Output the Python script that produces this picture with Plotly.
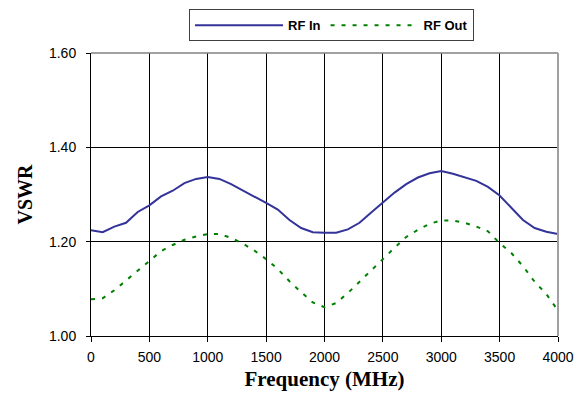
import plotly.graph_objects as go

freq = list(range(0, 4001, 100))

rf_in = [1.224, 1.220, 1.232, 1.240, 1.263, 1.277, 1.296, 1.308, 1.324, 1.333,
         1.337, 1.333, 1.322, 1.309, 1.296, 1.282, 1.268, 1.246, 1.229, 1.220,
         1.219, 1.219, 1.226, 1.240, 1.262, 1.284, 1.304, 1.322, 1.336, 1.345,
         1.350, 1.344, 1.337, 1.329, 1.316, 1.298, 1.272, 1.246, 1.229, 1.221,
         1.216]

rf_out = [1.078, 1.080, 1.097, 1.117, 1.138, 1.159, 1.180, 1.193, 1.204, 1.211,
          1.216, 1.216, 1.208, 1.196, 1.181, 1.163, 1.142, 1.116, 1.093, 1.071,
          1.061, 1.070, 1.091, 1.115, 1.141, 1.163, 1.187, 1.210, 1.225, 1.238,
          1.245, 1.245, 1.240, 1.232, 1.222, 1.197, 1.176, 1.148, 1.115, 1.089,
          1.054]

fig = go.Figure()
fig.add_trace(go.Scatter(x=freq, y=rf_in, name="<b>RF In</b>", mode="lines",
                         line=dict(color="#333399", width=2)))
fig.add_trace(go.Scatter(x=freq, y=rf_out, name="<b>RF Out</b>", mode="lines",
                         line=dict(color="#008000", width=2, dash="4px,7px")))

# grey frame on top and right like the original
fig.add_shape(type="line", xref="paper", yref="paper", x0=0, x1=1, y0=1, y1=1,
              line=dict(color="#808080", width=1.5))
fig.add_shape(type="line", xref="paper", yref="paper", x0=1, x1=1, y0=0, y1=1,
              line=dict(color="#a0a0a0", width=2))

# the page has an 8px body margin, so margins are shifted to compensate
fig.update_layout(
    width=585, height=400,
    margin=dict(l=83, r=35, t=45, b=72, autoexpand=False),
    paper_bgcolor="white", plot_bgcolor="white",
    font=dict(family="Liberation Sans, Arial", size=14, color="black"),
    legend=dict(orientation="h", xref="container", yref="container",
                x=0.553, xanchor="center", y=0.997, yanchor="top",
                bordercolor="#404040", borderwidth=1, itemwidth=88,
                font=dict(family="Liberation Sans, Arial", size=13, color="black")),
    showlegend=True,
)
fig.update_xaxes(range=[0, 4000], dtick=500, tick0=0,
                 showgrid=True, gridcolor="black", gridwidth=1,
                 showline=True, linecolor="black", linewidth=1,
                 ticks="outside", ticklen=5, tickcolor="black",
                 ticklabelstandoff=3,
                 zeroline=False, automargin=False,
                 title=dict(text="<b>Frequency (MHz)</b>",
                            font=dict(family="Liberation Serif, Times New Roman", size=21),
                            standoff=7))
fig.update_yaxes(range=[1.0, 1.6], dtick=0.2, tick0=1.0, tickformat=".2f",
                 showgrid=True, gridcolor="black", gridwidth=1,
                 showline=True, linecolor="black", linewidth=1,
                 ticks="outside", ticklen=4, tickcolor="black",
                 ticklabelstandoff=7,
                 zeroline=False, automargin=False,
                 title=dict(text="<b>VSWR</b>",
                            font=dict(family="Liberation Serif, Times New Roman", size=20),
                            standoff=10))

fig.write_html("out.html")
